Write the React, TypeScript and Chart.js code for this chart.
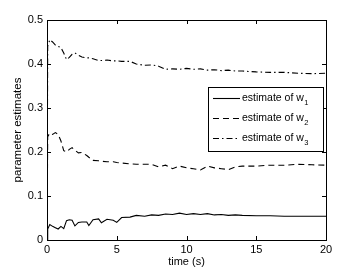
import React, { useEffect, useRef } from "react";
import Chart from "chart.js/auto";

const times = [0, 0.05, 0.2, 0.4, 0.6, 0.8, 1.0, 1.2, 1.4, 1.6, 1.8, 2.0, 2.25, 2.5, 2.85, 3.0, 3.3, 3.7, 3.9, 4.3, 4.75, 5.0, 5.35, 5.95, 6.4, 7, 7.5, 8, 8.5, 9, 9.5, 10, 10.5, 11, 11.5, 12, 12.5, 13, 13.5, 14, 15, 16, 17, 18, 19, 20];

const w1 = [0, 0.025, 0.035, 0.031, 0.028, 0.025, 0.031, 0.026, 0.044, 0.046, 0.045, 0.032, 0.040, 0.041, 0.041, 0.033, 0.046, 0.048, 0.039, 0.047, 0.045, 0.040, 0.051, 0.052, 0.056, 0.054, 0.057, 0.056, 0.059, 0.058, 0.061, 0.058, 0.060, 0.058, 0.060, 0.057, 0.058, 0.056, 0.057, 0.056, 0.055, 0.055, 0.054, 0.054, 0.054, 0.054];

const w2 = [0, 0.235, 0.243, 0.240, 0.244, 0.240, 0.225, 0.203, 0.200, 0.206, 0.210, 0.204, 0.198, 0.199, 0.192, 0.188, 0.181, 0.180, 0.179, 0.178, 0.178, 0.176, 0.175, 0.173, 0.172, 0.172, 0.172, 0.166, 0.170, 0.162, 0.168, 0.164, 0.162, 0.159, 0.168, 0.164, 0.162, 0.160, 0.166, 0.168, 0.168, 0.170, 0.170, 0.172, 0.171, 0.170];

const w3 = [0, 0.44, 0.455, 0.450, 0.443, 0.440, 0.437, 0.425, 0.410, 0.415, 0.422, 0.425, 0.420, 0.416, 0.414, 0.414, 0.412, 0.408, 0.408, 0.409, 0.407, 0.407, 0.406, 0.406, 0.400, 0.397, 0.398, 0.395, 0.388, 0.389, 0.388, 0.390, 0.388, 0.389, 0.386, 0.387, 0.385, 0.386, 0.384, 0.384, 0.382, 0.381, 0.381, 0.379, 0.378, 0.379];

const seriesLabels = ["estimate of w", "estimate of w", "estimate of w"];
const seriesSubscripts = ["1", "2", "3"];
const xTicks = [0, 5, 10, 15, 20];
const yTicks = [0, 0.1, 0.2, 0.3, 0.4, 0.5];
const xTitle = "time (s)";
const yTitle = "parameter estimates";

const FONT = "'Liberation Sans', Arial, Helvetica, sans-serif";
const dashes = [[], [6, 4], [6, 3, 1.5, 3]];

const boxPlugin = {
  id: "matlabBox",
  afterDatasetsDraw(chart: any) {
    const { ctx, chartArea: a, scales } = chart;
    const xs = scales.x;
    const ys = scales.y;
    ctx.save();
    ctx.strokeStyle = "#000";
    ctx.lineWidth = 1;
    ctx.setLineDash([]);
    ctx.strokeRect(Math.round(a.left) + 0.5, Math.round(a.top) + 0.5, Math.round(a.right - a.left), Math.round(a.bottom - a.top));
    const tl = 4;
    ctx.beginPath();
    for (const v of xTicks) {
      const px = Math.round(xs.getPixelForValue(v)) + 0.5;
      ctx.moveTo(px, a.bottom);
      ctx.lineTo(px, a.bottom - tl);
      ctx.moveTo(px, a.top);
      ctx.lineTo(px, a.top + tl);
    }
    for (const v of yTicks) {
      const py = Math.round(ys.getPixelForValue(v)) + 0.5;
      ctx.moveTo(a.left, py);
      ctx.lineTo(a.left + tl, py);
      ctx.moveTo(a.right, py);
      ctx.lineTo(a.right - tl, py);
    }
    ctx.stroke();

    // legend
    const bx = 208.5, by = 87.5, bw = 115, bh = 64;
    ctx.fillStyle = "#fff";
    ctx.fillRect(bx, by, bw, bh);
    ctx.strokeRect(bx, by, bw, bh);
    chart.data.datasets.forEach((ds: any, i: number) => {
      const cy = 98.5 + i * 20;
      ctx.beginPath();
      ctx.setLineDash(ds.borderDash || []);
      ctx.lineWidth = 1.1;
      ctx.strokeStyle = "#000";
      ctx.moveTo(213, cy);
      ctx.lineTo(240, cy);
      ctx.stroke();
      ctx.setLineDash([]);
      ctx.fillStyle = "#000";
      ctx.textBaseline = "middle";
      ctx.textAlign = "left";
      ctx.font = `10.5px ${FONT}`;
      ctx.fillText(ds.label, 242, cy);
      const w = ctx.measureText(ds.label).width;
      ctx.font = `7.5px ${FONT}`;
      ctx.fillText(seriesSubscripts[i], 242 + w + 0.5, cy + 4);
    });
    ctx.restore();
  },
};

export default function App() {
  const ref = useRef<HTMLCanvasElement | null>(null);
  useEffect(() => {
    document.body.style.margin = "0";
    const cv = ref.current;
    if (!cv) return;
    const mk = (vals: number[]) => times.map((t, i) => ({ x: t, y: vals[i] }));
    const chart = new Chart(cv, {
      type: "line",
      data: {
        datasets: [w1, w2, w3].map((vals, i) => ({
          label: seriesLabels[i],
          data: mk(vals),
          borderColor: "#000",
          borderWidth: 1.1,
          borderDash: dashes[i],
          pointRadius: 0,
          fill: false,
          tension: 0,
        })),
      },
      options: {
        animation: false,
        responsive: false,
        devicePixelRatio: 1,
        layout: { padding: { left: 0, top: 20, right: 34, bottom: 0 } },
        plugins: { legend: { display: false }, tooltip: { enabled: false } },
        scales: {
          x: {
            type: "linear",
            min: 0,
            max: 20,
            afterBuildTicks: (s: any) => { s.ticks = xTicks.map((v) => ({ value: v })); },
            afterFit: (s: any) => { s.height = 30; },
            grid: { display: false, drawTicks: false },
            border: { display: false },
            ticks: { color: "#000", padding: 3, font: { family: FONT, size: 11 }, maxRotation: 0, callback: (v: any) => String(v) },
            title: { display: true, text: xTitle, color: "#000", font: { family: FONT, size: 11 }, padding: { top: 0, bottom: 1 } },
          },
          y: {
            type: "linear",
            min: 0,
            max: 0.5,
            afterBuildTicks: (s: any) => { s.ticks = yTicks.map((v) => ({ value: v })); },
            afterFit: (s: any) => { s.width = 47; },
            grid: { display: false, drawTicks: false },
            border: { display: false },
            ticks: { color: "#000", padding: 4, font: { family: FONT, size: 11 }, callback: (v: any) => (v === 0 ? "0" : Number(v).toFixed(1)) },
            title: { display: true, text: yTitle, color: "#000", font: { family: FONT, size: 11.5 }, padding: { top: 11, bottom: 0 } },
          },
        },
      },
      plugins: [boxPlugin],
    });
    return () => chart.destroy();
  }, []);
  return (
    <div style={{ position: "absolute", left: 0, top: 0, width: 360, height: 270, background: "#fff" }}>
      <canvas ref={ref} width={360} height={270} style={{ width: 360, height: 270 }} />
    </div>
  );
}
